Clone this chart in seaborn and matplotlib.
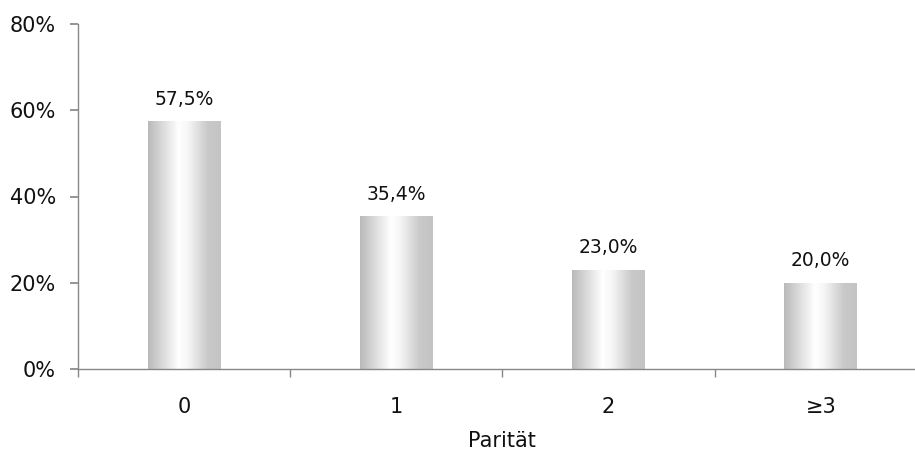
import numpy as np
import pandas as pd
import matplotlib
matplotlib.use("Agg")
import matplotlib.pyplot as plt
from matplotlib.colors import LinearSegmentedColormap
import seaborn as sns

categories = ["0", "1", "2", "≥3"]
values = [57.5, 35.4, 23.0, 20.0]
value_labels = ["57,5%", "35,4%", "23,0%", "20,0%"]
y_ticks = [0, 20, 40, 60, 80]
y_tick_labels = ["0%", "20%", "40%", "60%", "80%"]
x_label = "Parität"

sns.set_theme(style="white")
plt.rcParams["font.family"] = ["DejaVu Sans"]

df = pd.DataFrame({"cat": categories, "val": values})

fig = plt.figure(figsize=(9.15, 4.57), dpi=100)
ax = fig.add_axes([78 / 915, 88 / 457, 848.8 / 915, 345 / 457])

sns.barplot(data=df, x="cat", y="val", ax=ax, width=0.344,
            color="#d0d0d0", edgecolor="none", saturation=1)

cmap = LinearSegmentedColormap.from_list(
    "cyl", [(0.0, "#bababa"), (0.15, "#d2d2d2"), (0.42, "#ffffff"),
            (0.55, "#f6f6f6"), (0.82, "#c9c9c9"), (1.0, "#c4c4c4")])
grad = np.linspace(0, 1, 256).reshape(1, -1)
for patch in ax.patches:
    x0, y0 = patch.get_x(), patch.get_y()
    w, h = patch.get_width(), patch.get_height()
    im = ax.imshow(grad, cmap=cmap, aspect="auto", extent=[x0, x0 + w, y0, y0 + h],
                   zorder=patch.get_zorder() + 0.1)
    im.set_clip_path(patch)

for i, (v, lab) in enumerate(zip(values, value_labels)):
    ax.annotate(lab, (i, v), xytext=(0, 9), textcoords="offset points",
                ha="center", va="bottom", fontsize=13.5, color="#111111")

ax.set_xlim(-0.5, 3.5)
ax.set_ylim(0, 80)
ax.set_yticks(y_ticks)
ax.set_yticklabels(y_tick_labels, fontsize=15, color="#111111")
ax.set_xticks(range(len(categories)))
ax.set_xticklabels(categories, fontsize=15, color="#111111")
ax.tick_params(axis="x", length=0, pad=20)
ax.set_xticks([-0.5, 0.5, 1.5, 2.5, 3.5], minor=True)
ax.tick_params(axis="x", which="minor", length=6, color="#888888", direction="out", bottom=True)
ax.tick_params(axis="y", length=6, color="#888888", direction="out", left=True, pad=10)
ax.set_xlabel(x_label, fontsize=15, color="#111111", labelpad=10)
ax.set_ylabel("")

for s in ["top", "right"]:
    ax.spines[s].set_visible(False)
for s in ["left", "bottom"]:
    ax.spines[s].set_color("#888888")
    ax.spines[s].set_linewidth(1.0)

fig.savefig("out.png", dpi=100)
